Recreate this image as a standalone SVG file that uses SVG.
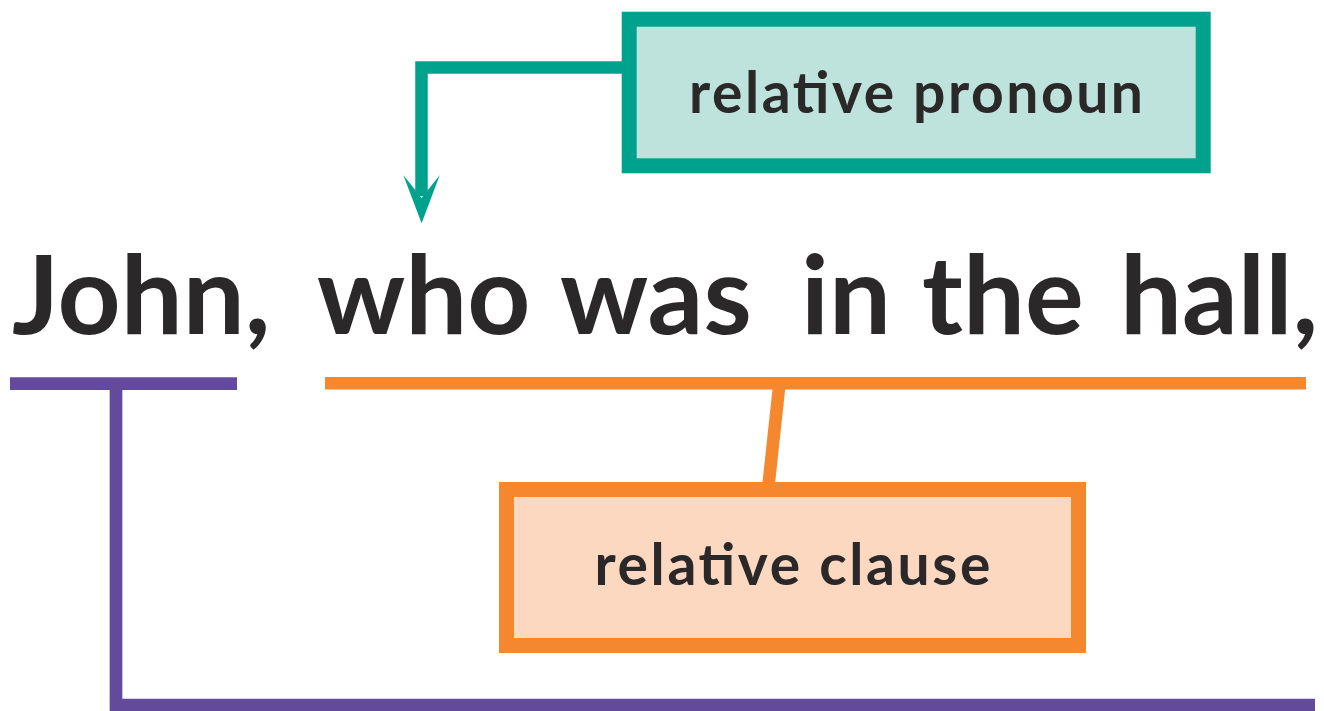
<svg xmlns="http://www.w3.org/2000/svg" width="1324" height="711" viewBox="0 0 1324 711">
  <defs>
    <style>
      .lbl { font-family: Lato, "Open Sans", "Liberation Sans", sans-serif; font-weight: 700; fill: #2A2829; }
      .teal-line { fill: none; stroke: #00A28E; stroke-width: 12.5; stroke-linejoin: miter; stroke-linecap: butt; }
      .orange-line { fill: none; stroke: #F5872E; stroke-width: 12.6; stroke-linecap: butt; }
      .purple-line { fill: none; stroke: #634A9B; stroke-width: 12.7; stroke-linejoin: miter; stroke-linecap: butt; }
    </style>
  </defs>
  <rect x="0" y="0" width="1324" height="711" fill="#FFFFFF"/>

  <g id="connectors">
    <path class="teal-line" d="M629,67.5 H421.5 V196"/>
    <polygon points="403.3,175 421.6,223.3 439.8,175 421.6,198" fill="#00A28E"/>
    <path class="orange-line" d="M325,383.3 H1306"/>
    <path class="orange-line" d="M779.5,383 L768,490"/>
    <path class="purple-line" d="M10,383.7 H237"/>
    <path class="purple-line" d="M116,383.7 V705 H1315"/>
  </g>

  <g id="node-pronoun">
    <rect x="629.2" y="19.2" width="574" height="146.6" fill="#BDE3DC" stroke="#00A28E" stroke-width="15"/>
    <text class="lbl" x="916" y="113" font-size="57" text-anchor="middle" textLength="454" lengthAdjust="spacing">relative pronoun</text>
  </g>

  <g id="node-sentence">
    <text class="lbl" y="334" font-size="110"><tspan x="12">John, </tspan><tspan x="317">who </tspan><tspan x="560">was </tspan><tspan x="801">in </tspan><tspan x="922">the </tspan><tspan x="1120">hall,</tspan></text>
  </g>

  <g id="node-clause">
    <rect x="506.5" y="489.5" width="572" height="156" fill="#FDD8C0" stroke="#F5872E" stroke-width="15"/>
    <text class="lbl" x="792.5" y="585" font-size="57" text-anchor="middle" textLength="396" lengthAdjust="spacing">relative clause</text>
  </g>
</svg>
